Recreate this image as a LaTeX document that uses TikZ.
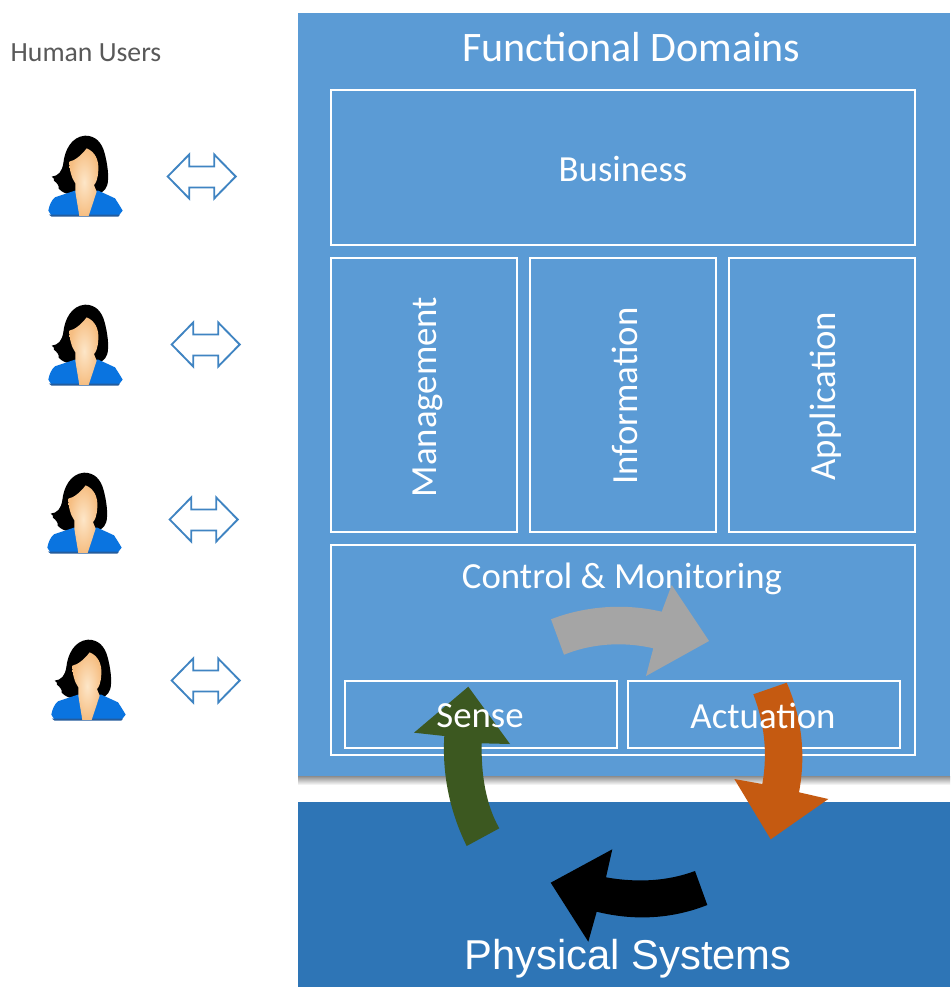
\documentclass[tikz,border=0pt]{standalone}
\usepackage{fontspec}
\setmainfont{Carlito}
\newfontfamily\arialfont{Liberation Sans}
\definecolor{panel}{HTML}{5B9BD5}
\definecolor{phys}{HTML}{2E75B6}
\definecolor{outl}{HTML}{3F84C2}
\definecolor{garrow}{HTML}{A5A5A5}
\definecolor{greenarrow}{HTML}{3C5820}
\definecolor{orangearrow}{HTML}{C55A11}
\definecolor{shirt}{HTML}{0A74E0}
\definecolor{shirtd}{HTML}{245C9C}
\definecolor{skin}{HTML}{F6BE82}
\definecolor{skinl}{HTML}{FDE6C8}
\definecolor{shadowtop}{rgb}{0.55,0.55,0.55}
\tikzset{
  x=0.75pt,y=-0.75pt,
  panelbox/.style={fill=#1,draw=none,inner sep=0pt,outer sep=0pt,anchor=center},
  framebox/.style={draw=white,line width=1.9pt,fill=none,inner sep=0pt,outer sep=0pt,anchor=center},
  lab/.style={text=white,inner sep=0pt,font=\fontsize{27.6}{30}\selectfont},
  person/.pic={
    \begin{scope}[xscale=0.3333,yscale=0.3333]
      % hair
      \fill[black] (165,47) .. controls (195,47) and (215,65) .. (224,100)
        .. controls (232,130) and (238,170) .. (232,195)
        .. controls (226,214) and (212,220) .. (200,222) -- (125,224)
        .. controls (108,222) and (98,218) .. (86,206)
        .. controls (88,198) and (82,190) .. (72,182)
        .. controls (76,178) and (70,174) .. (65,170)
        .. controls (85,168) and (96,155) .. (100,130)
        .. controls (104,90) and (125,50) .. (165,47) -- cycle;
      % shirt
      \fill[shirt] (55,272) .. controls (58,255) and (65,240) .. (75,232)
        -- (135,212) -- (205,212) -- (255,235)
        .. controls (265,250) and (272,262) .. (278,272) -- (265,288) -- (65,288) -- cycle;
      \fill[shirtd] (57,284) -- (270,284) -- (265,290) -- (65,290) -- cycle;
      % face and neck
      \shade[inner color=skinl,outer color=skin] (118,125)
        .. controls (135,122) and (155,105) .. (170,85)
        .. controls (195,95) and (207,120) .. (205,150)
        .. controls (204,175) and (198,190) .. (192,195)
        -- (200,215) -- (176,288) -- (148,288) -- (136,215) -- (136,190)
        .. controls (125,175) and (118,150) .. (118,125) -- cycle;
    \end{scope}
  },
  duplex/.pic={
    \draw[outl,line width=1.4pt,fill=white,line join=miter] (-34,0) -- (-12.5,-22) -- (-12.5,-10) -- (12.5,-10) -- (12.5,-22) -- (34,0) -- (12.5,22) -- (12.5,11) -- (-12.5,11) -- (-12.5,22) -- cycle;
  }
}
\begin{document}
\begin{tikzpicture}
\useasboundingbox (0,0) rectangle (950,987);
\fill[white] (0,0) rectangle (950,987);

% shadow and panels
\shade[top color=shadowtop,bottom color=white] (298,776) rectangle (950,785);
\node[panelbox=panel,minimum width=489pt,minimum height=572.25pt] (domains) at (624,394.5) {};
\node[panelbox=phys,minimum width=489pt,minimum height=138.75pt] (physical) at (624,894.5) {};

% frames
\node[framebox,minimum width=438pt,minimum height=116.25pt] (business) at (623,167.5) {};
\node[framebox,minimum width=139.5pt,minimum height=205.5pt] (management) at (424,395) {};
\node[framebox,minimum width=139.5pt,minimum height=205.5pt] (information) at (623,395) {};
\node[framebox,minimum width=139.5pt,minimum height=205.5pt] (application) at (822,395) {};
\node[framebox,minimum width=438pt,minimum height=157.5pt] (control) at (623,650) {};
\node[framebox,minimum width=204pt,minimum height=50.25pt] (sense) at (481,714.5) {};
\node[framebox,minimum width=204pt,minimum height=50.25pt] (actuation) at (764,714.5) {};

% block arrows
\fill[garrow] (551,619.3) .. controls (585,606) and (625,603) .. (661.7,611.7)
  -- (671.7,585) -- (709,641) -- (646,676) -- (653.3,648.3)
  .. controls (622,641) and (590,644) .. (564,654.7) -- cycle;
\fill[greenarrow] (466.7,846) .. controls (450,812) and (442,775) .. (444.3,736)
  -- (414,732.7) -- (468.3,686.7) -- (510,744) -- (481.7,743.3)
  .. controls (481,775) and (486,805) .. (499.3,828.3) -- cycle;
\fill[orangearrow] (753.3,694.3) .. controls (764,722) and (768,752) .. (762.3,784)
  -- (734.3,779) -- (770.7,839.3) -- (828.3,799) -- (799,792.3)
  .. controls (806,755) and (802,718) .. (786.7,682.7) -- cycle;
\fill[black] (707.3,905) .. controls (672,919) and (634,921) .. (596.7,911.7)
  -- (588.3,941.7) -- (550.7,882.7) -- (612.3,849.3) -- (606,877.3)
  .. controls (638,883) and (668,881) .. (695,871) -- cycle;

% texts
\node[lab,font=\fontsize{31.5}{34}\selectfont] (tdomains) at (631.5,47.5) {Functional Domains};
\node[lab] (tbusiness) at (623,168.5) {Business};
\node[lab,rotate=90] (tmanagement) at (428,397) {Management};
\node[lab,rotate=90] (tinformation) at (625,396) {Information};
\node[lab,rotate=90] (tapplication) at (826,396) {Application};
\node[lab] (tcontrol) at (622,579) {Control \& Monitoring};
\node[lab] (tsense) at (480,716) {Sense};
\node[lab] (tactuation) at (763,716) {Actuation};
\node[lab,font=\arialfont\fontsize{31.3}{34}\selectfont] (tphysical) at (628,959) {Physical Systems};
\node[text=black!65,inner sep=0pt,font=\fontsize{20.8}{23}\selectfont] (tusers) at (86,53) {Human Users};

% people
\pic at (30,120) {person};
\pic at (30,289) {person};
\pic at (29,457) {person};
\pic at (33,624) {person};

% double arrows
\pic at (201.7,176.5) {duplex};
\pic at (205.7,344.5) {duplex};
\pic at (203.7,519.5) {duplex};
\pic at (205.7,680.5) {duplex};
\end{tikzpicture}
\end{document}
